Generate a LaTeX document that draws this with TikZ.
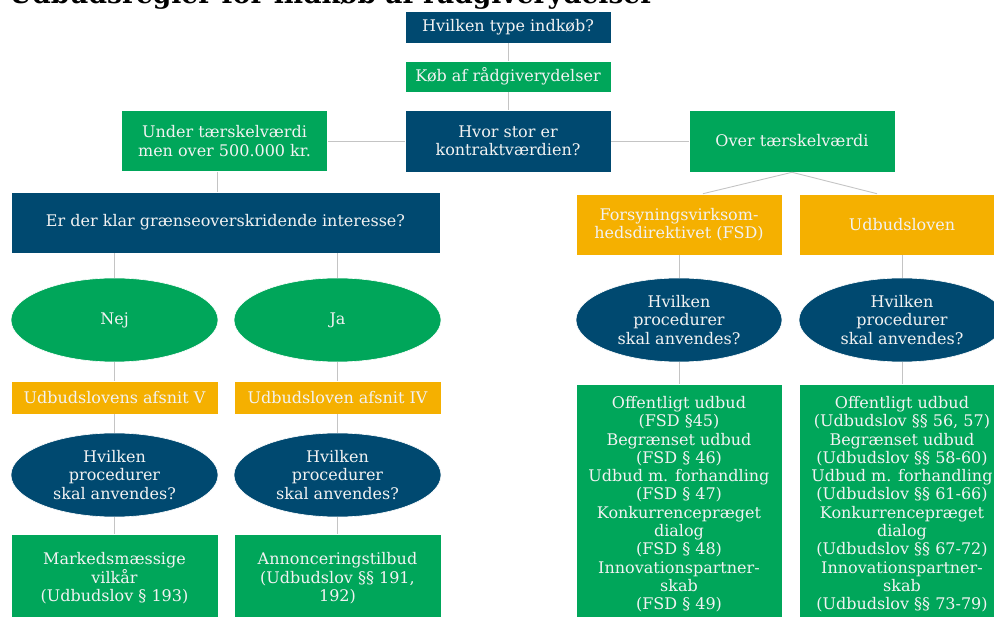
\documentclass[tikz,border=0pt]{standalone}
\usepackage{fontspec}
\setmainfont{DejaVu Serif}
\usetikzlibrary{shapes.geometric}
\definecolor{darkblue}{RGB}{0,73,112}
\definecolor{midgreen}{RGB}{0,166,90}
\definecolor{amber}{RGB}{245,176,0}
\definecolor{linegray}{RGB}{196,196,196}
\begin{document}
\begin{tikzpicture}[x=1pt,y=-1pt,
  box/.style={rectangle, draw=white, line width=0.6pt, text=white!95!black, align=center,
    inner sep=1pt, minimum width=206pt, font=\fontsize{16}{18.3}\selectfont},
  bluebox/.style={box, fill=darkblue},
  greenbox/.style={box, fill=midgreen},
  yellowbox/.style={box, fill=amber},
  oval/.style={box, ellipse, inner sep=0pt, minimum height=84pt},
  link/.style={draw=linegray, line width=0.9pt}]
  \useasboundingbox (0,0) rectangle (994,617);
  \clip (0,0) rectangle (994,617);
  % title, cut off at the top
  \node[anchor=base west, inner sep=0pt, font=\fontsize{26.5}{26.5}\selectfont\bfseries] (title) at (9,3.5) {Udbudsregler for indkøb af rådgiverydelser};
  % top column
  \node[bluebox, minimum height=32pt] (type) at (508,27) {Hvilken type indkøb?};
  \node[greenbox, minimum height=31pt] (koeb) at (508,76.5) {Køb af rådgiverydelser};
  \node[bluebox, minimum height=62pt] (vaerdi) at (508,141) {Hvor stor er\\kontraktværdien?};
  \node[greenbox, minimum height=61pt] (under) at (224.5,141) {Under tærskelværdi\\men over 500.000 kr.};
  \node[greenbox, minimum height=62pt] (over) at (792,141) {Over tærskelværdi};
  % left branch
  \node[bluebox, minimum width=429pt, minimum height=61pt] (klar) at (225.5,222.5) {Er der klar grænseoverskridende interesse?};
  \node[oval, fill=midgreen, minimum width=207pt] (nej) at (114.5,320) {Nej};
  \node[oval, fill=midgreen, minimum width=207pt] (ja) at (337.5,320) {Ja};
  \node[yellowbox, minimum width=207pt, minimum height=33pt] (afsnitV) at (114.5,397.5) {Udbudslovens afsnit V};
  \node[yellowbox, minimum width=207pt, minimum height=33pt] (afsnitIV) at (337.5,397.5) {Udbudsloven afsnit IV};
  \node[oval, fill=darkblue, minimum width=207pt] (procV) at (114.5,475) {Hvilken\\procedurer\\skal anvendes?};
  \node[oval, fill=darkblue, minimum width=207pt] (procIV) at (337.5,475) {Hvilken\\procedurer\\skal anvendes?};
  \node[greenbox, anchor=north, minimum width=207pt, minimum height=88pt] (marked) at (114.5,534) {Markedsmæssige\\vilkår\\(Udbudslov § 193)};
  \node[greenbox, anchor=north, minimum width=207pt, minimum height=88pt] (annonce) at (337.5,534) {Annonceringstilbud\\(Udbudslov §§ 191,\\192)};
  % right branch
  \node[yellowbox, minimum height=61pt] (fsd) at (679,224.5) {Forsyningsvirksom-\\hedsdirektivet (FSD)};
  \node[yellowbox, minimum height=61pt] (udbl) at (902,224.5) {Udbudsloven};
  \node[oval, fill=darkblue, minimum width=206pt] (procF) at (679,320) {Hvilken\\procedurer\\skal anvendes?};
  \node[oval, fill=darkblue, minimum width=206pt] (procU) at (902,320) {Hvilken\\procedurer\\skal anvendes?};
  \node[greenbox, anchor=north, minimum height=240pt] (listF) at (679,384) {Offentligt udbud\\(FSD §45)\\Begrænset udbud\\(FSD § 46)\\Udbud m. forhandling\\(FSD § 47)\\Konkurrencepræget\\dialog\\(FSD § 48)\\Innovationspartner-\\skab\\(FSD § 49)};
  \node[greenbox, anchor=north, minimum height=240pt] (listU) at (902,384) {Offentligt udbud\\(Udbudslov §§ 56, 57)\\Begrænset udbud\\(Udbudslov §§ 58-60)\\Udbud m. forhandling\\(Udbudslov §§ 61-66)\\Konkurrencepræget\\dialog\\(Udbudslov §§ 67-72)\\Innovationspartner-\\skab\\(Udbudslov §§ 73-79)};
  % connectors
  \draw[link] (type) -- (koeb);
  \draw[link] (koeb) -- (vaerdi);
  \draw[link] (under.east) -- (vaerdi.west);
  \draw[link] (vaerdi.east) -- (over.west);
  \draw[link] ([xshift=-7.5pt]under.south) -- ([xshift=-8.5pt]klar.north);
  \draw[link] (nej.north |- klar.south) -- (nej.north);
  \draw[link] (ja.north |- klar.south) -- (ja.north);
  \draw[link] (nej) -- (afsnitV);
  \draw[link] (ja) -- (afsnitIV);
  \draw[link] (afsnitV) -- (procV);
  \draw[link] (afsnitIV) -- (procIV);
  \draw[link] (procV) -- (marked);
  \draw[link] (procIV) -- (annonce);
  \draw[link] (over.south) -- ([xshift=24pt]fsd.north);
  \draw[link] (over.south) -- ([xshift=-25pt]udbl.north);
  \draw[link] (fsd) -- (procF);
  \draw[link] (udbl) -- (procU);
  \draw[link] (procF) -- (listF);
  \draw[link] (procU) -- (listU);
\end{tikzpicture}
\end{document}
